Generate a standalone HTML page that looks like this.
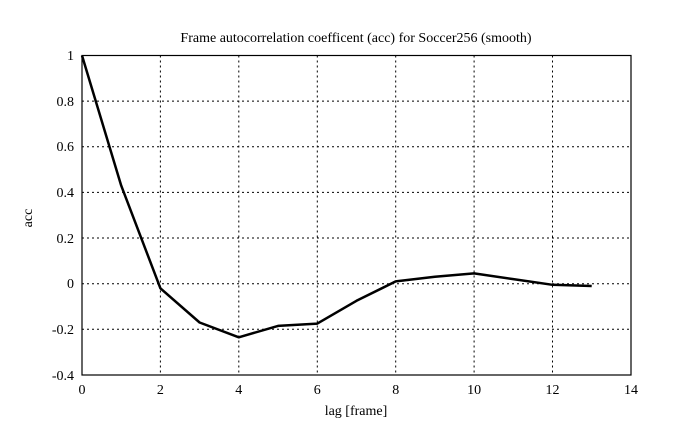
<!DOCTYPE html>
<html><head><meta charset="utf-8"><style>body{margin:0;background:#fff}svg{display:block}text{font-family:"Liberation Serif",serif;font-size:14px;fill:#000}</style></head><body>
<svg width="685" height="433" viewBox="0 0 685 433" xmlns="http://www.w3.org/2000/svg">
<rect width="685" height="433" fill="#fff"/>
<g stroke="#000" stroke-width="1" stroke-dasharray="2,3">
<line x1="160.4" y1="55.5" x2="160.4" y2="375"/><line x1="238.8" y1="55.5" x2="238.8" y2="375"/><line x1="317.3" y1="55.5" x2="317.3" y2="375"/><line x1="395.7" y1="55.5" x2="395.7" y2="375"/><line x1="474.1" y1="55.5" x2="474.1" y2="375"/><line x1="552.5" y1="55.5" x2="552.5" y2="375"/>
<line x1="82" y1="101.1" x2="631" y2="101.1"/><line x1="82" y1="146.8" x2="631" y2="146.8"/><line x1="82" y1="192.4" x2="631" y2="192.4"/><line x1="82" y1="238" x2="631" y2="238"/><line x1="82" y1="283.7" x2="631" y2="283.7"/><line x1="82" y1="329.3" x2="631" y2="329.3"/>
</g>
<rect x="82" y="55.5" width="549" height="319.5" fill="none" stroke="#000" stroke-width="1.2"/>
<polyline fill="none" stroke="#000" stroke-width="2.5" stroke-linejoin="round" points="82,55.5 121.2,185.6 160.4,288.3 199.6,322.5 238.8,337.3 278,325.9 317.3,323.6 356.5,300.8 395.7,281.4 434.9,276.8 474.1,273.4 513.3,279.1 552.5,284.8 591.7,286"/>
<g text-anchor="end">
<text x="74" y="60">1</text><text x="74" y="106">0.8</text><text x="74" y="151">0.6</text><text x="74" y="197">0.4</text><text x="74" y="243">0.2</text><text x="74" y="288">0</text><text x="74" y="334">-0.2</text><text x="74" y="380">-0.4</text>
</g>
<g text-anchor="middle">
<text x="82" y="394">0</text><text x="160.4" y="394">2</text><text x="238.8" y="394">4</text><text x="317.3" y="394">6</text><text x="395.7" y="394">8</text><text x="474.1" y="394">10</text><text x="552.5" y="394">12</text><text x="631" y="394">14</text>
<text x="356" y="415">lag [frame]</text>
<text x="356" y="42">Frame autocorrelation coefficent (acc) for Soccer256 (smooth)</text>
<text x="0" y="0" transform="translate(32,218) rotate(-90)">acc</text>
</g>
</svg>
</body></html>
